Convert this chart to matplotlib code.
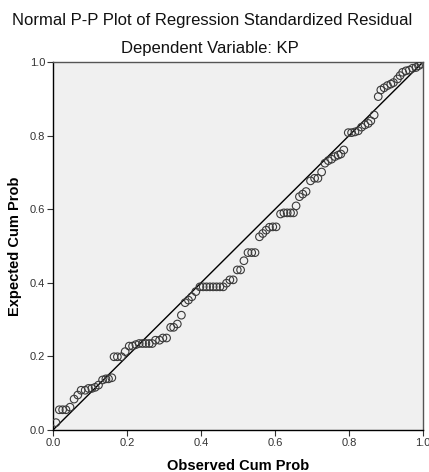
import matplotlib
matplotlib.use("Agg")
import matplotlib.pyplot as plt

# observed vs expected cumulative probabilities
observed = [0.008, 0.017, 0.026, 0.035, 0.046, 0.057, 0.067, 0.076, 0.087, 0.096,
            0.105, 0.114, 0.123, 0.134, 0.143, 0.150, 0.159, 0.165, 0.174, 0.185,
            0.195, 0.206, 0.215, 0.224, 0.233, 0.242, 0.251, 0.260, 0.268, 0.277,
            0.288, 0.297, 0.307, 0.318, 0.326, 0.336, 0.347, 0.357, 0.366, 0.375,
            0.386, 0.397, 0.406, 0.415, 0.424, 0.433, 0.442, 0.451, 0.460, 0.469,
            0.478, 0.487, 0.498, 0.507, 0.516, 0.527, 0.537, 0.546, 0.558, 0.567,
            0.576, 0.585, 0.594, 0.603, 0.615, 0.624, 0.633, 0.642, 0.650, 0.657,
            0.666, 0.675, 0.684, 0.696, 0.707, 0.716, 0.726, 0.735, 0.744, 0.753,
            0.762, 0.771, 0.778, 0.786, 0.798, 0.807, 0.816, 0.825, 0.834, 0.843,
            0.852, 0.859, 0.868, 0.879, 0.886, 0.895, 0.904, 0.913, 0.920, 0.931,
            0.938, 0.945, 0.954, 0.963, 0.972, 0.981, 0.988, 0.995]
expected = [0.020, 0.055, 0.055, 0.055, 0.062, 0.084, 0.095, 0.108, 0.108, 0.113,
            0.113, 0.116, 0.122, 0.136, 0.139, 0.139, 0.142, 0.199, 0.199, 0.199,
            0.213, 0.228, 0.228, 0.232, 0.235, 0.235, 0.235, 0.235, 0.235, 0.244,
            0.244, 0.250, 0.250, 0.279, 0.279, 0.288, 0.312, 0.346, 0.353, 0.362,
            0.376, 0.389, 0.389, 0.389, 0.389, 0.389, 0.389, 0.389, 0.389, 0.399,
            0.408, 0.408, 0.435, 0.435, 0.460, 0.482, 0.482, 0.482, 0.525, 0.534,
            0.543, 0.551, 0.552, 0.552, 0.587, 0.590, 0.590, 0.590, 0.590, 0.609,
            0.634, 0.641, 0.648, 0.677, 0.684, 0.684, 0.701, 0.725, 0.732, 0.736,
            0.743, 0.747, 0.750, 0.761, 0.808, 0.808, 0.810, 0.813, 0.823, 0.829,
            0.833, 0.840, 0.856, 0.906, 0.924, 0.930, 0.936, 0.940, 0.944, 0.954,
            0.963, 0.972, 0.976, 0.978, 0.983, 0.985, 0.990, 0.994]
ticks = [0.0, 0.2, 0.4, 0.6, 0.8, 1.0]
tick_labels = ["0.0", "0.2", "0.4", "0.6", "0.8", "1.0"]

plt.rcParams['font.family'] = ['Liberation Sans', 'DejaVu Sans']

fig = plt.figure(figsize=(4.29, 4.72), dpi=100)
ax = fig.add_axes([53 / 429, 1 - 430 / 472, 370 / 429, 368 / 472])
ax.set_facecolor('#f0f0f0')

ax.plot([0, 1], [0, 1], color='black', linewidth=1.0, zorder=2)
ax.scatter(observed, expected, s=30, facecolors='none', edgecolors='#3a3a3a',
           linewidths=0.8, zorder=3)

ax.set_xlim(0, 1)
ax.set_ylim(0, 1)
ax.set_xticks(ticks)
ax.set_xticklabels(tick_labels)
ax.set_yticks(ticks)
ax.set_yticklabels(tick_labels)
ax.tick_params(direction='out', length=4, width=0.8, labelsize=8,
               colors='#333333', pad=1.5)

for side in ['left', 'bottom']:
    ax.spines[side].set_color('black')
    ax.spines[side].set_linewidth(1.0)
for side in ['top', 'right']:
    ax.spines[side].set_color('#555555')
    ax.spines[side].set_linewidth(1.0)

fig.text(238 / 429, 1 - 466 / 472, "Observed Cum Prob", ha='center', va='center',
         fontsize=10.5, fontweight='bold')
fig.text(15 / 429, 1 - 246 / 472, "Expected Cum Prob", ha='center', va='center',
         rotation=90, fontsize=10.5, fontweight='bold')

fig.text(212 / 429, 1 - 21 / 472, "Normal P-P Plot of Regression Standardized Residual",
         ha='center', va='center', fontsize=12, color='#111111')
fig.text(210 / 429, 1 - 49 / 472, "Dependent Variable: KP",
         ha='center', va='center', fontsize=12, color='#111111')

fig.savefig("out.png", dpi=100)
